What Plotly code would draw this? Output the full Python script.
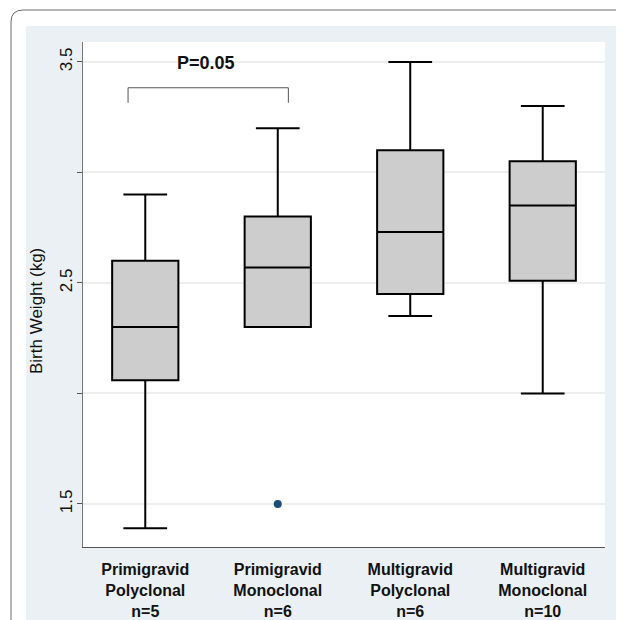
import plotly.graph_objects as go

# ---- data ----
groups = ["Primigravid<br>Polyclonal<br>n=5", "Primigravid<br>Monoclonal<br>n=6",
          "Multigravid<br>Polyclonal<br>n=6", "Multigravid<br>Monoclonal<br>n=10"]
upper = [2.90, 3.20, 3.50, 3.30]
q3 = [2.60, 2.80, 3.10, 3.05]
median = [2.30, 2.57, 2.73, 2.85]
q1 = [2.06, 2.30, 2.45, 2.51]
lower = [1.39, 2.30, 2.35, 2.00]
outlier_group = [1]
outlier_value = [1.50]
p_label = "P=0.05"
y_title = "Birth Weight (kg)"
y_ticks = [1.5, 2.0, 2.5, 3.0, 3.5]
y_tick_text = ["1.5", "", "2.5", "", "3.5"]

# page body has an 8px margin; lay out in page pixels and convert
OFF = 8
W, H = 624 - OFF, 620 - OFF
L, R, T, B = 83 - OFF, 605 - OFF, 42 - OFF, 547 - OFF
def xp(px): return (px - OFF - L) / (R - L)
def yp(py): return (B - (py - OFF)) / (B - T)

pos = list(range(len(groups)))
fig = go.Figure()
fig.add_trace(go.Box(
    x=pos, q1=q1, median=median, q3=q3, lowerfence=lower, upperfence=upper,
    fillcolor="#cdcdcd", line=dict(color="#000000", width=2),
    width=0.5, whiskerwidth=0.66, boxpoints=False, showlegend=False, hoverinfo="skip"))
fig.add_trace(go.Scatter(
    x=outlier_group, y=outlier_value, mode="markers",
    marker=dict(color="#1b4f7a", size=8), showlegend=False))

# bracket for p-value
fig.add_trace(go.Scatter(
    x=[-0.13, -0.13, 1.08, 1.08], y=[3.315, 3.383, 3.383, 3.315], mode="lines",
    line=dict(color="#555555", width=1), showlegend=False, hoverinfo="skip"))
fig.add_annotation(x=0.455, y=3.497, text="<b>" + p_label + "</b>", showarrow=False,
                   font=dict(family="Liberation Sans", size=18, color="#111111"),
                   xanchor="center", yanchor="middle")

# y-axis title
fig.add_annotation(x=xp(36), y=yp(311), xref="paper", yref="paper", text=y_title,
                   textangle=-90, showarrow=False, xanchor="center", yanchor="middle",
                   font=dict(family="Liberation Sans", size=17, color="#111111"))

# card background with rounded corner (page pixel coordinates)
r = 12
x0, y0 = 11, 10
x1, y1 = 660, 660
path = (f"M {xp(x0)},{yp(y1)} L {xp(x0)},{yp(y0 + r)} Q {xp(x0)},{yp(y0)} {xp(x0 + r)},{yp(y0)} "
        f"L {xp(x1)},{yp(y0)} L {xp(x1)},{yp(y1)} Z")
fig.add_shape(type="path", path=path, xref="paper", yref="paper",
              line=dict(color="#6a6a6a", width=1), fillcolor="#ffffff", layer="below")
fig.add_shape(type="rect", xref="paper", yref="paper",
              x0=xp(26), x1=xp(619), y0=yp(26), y1=yp(660),
              line=dict(width=0), fillcolor="#eaf0f3", layer="below")
fig.add_shape(type="rect", xref="paper", yref="paper",
              x0=0, x1=1, y0=0, y1=1,
              line=dict(width=0), fillcolor="#ffffff", layer="below")

fig.update_layout(
    width=W, height=H,
    margin=dict(l=L, r=W - R, t=T, b=H - B, pad=0),
    paper_bgcolor="#ffffff", plot_bgcolor="#ffffff",
    font=dict(family="Liberation Sans", color="#111111"),
    xaxis=dict(range=[-0.47, 3.47], tickvals=pos,
               ticktext=["<b>" + g + "</b>" for g in groups],
               tickfont=dict(size=16, color="#111111"), ticklabelstandoff=8,
               showgrid=False, zeroline=False, showline=True, linecolor="#555555",
               linewidth=1, ticks="", ticklen=0, automargin=False),
    yaxis=dict(range=[1.305, 3.59], tickvals=y_ticks, ticktext=y_tick_text,
               tickangle=-90, tickfont=dict(size=17, color="#111111"),
               ticklabelstandoff=-2,
               ticks="outside", ticklen=5, tickcolor="#555555",
               showgrid=True, gridcolor="#eeeeee", gridwidth=1.5,
               zeroline=False, showline=True, linecolor="#777777", linewidth=1,
               automargin=False),
)
fig.write_html("out.html")
